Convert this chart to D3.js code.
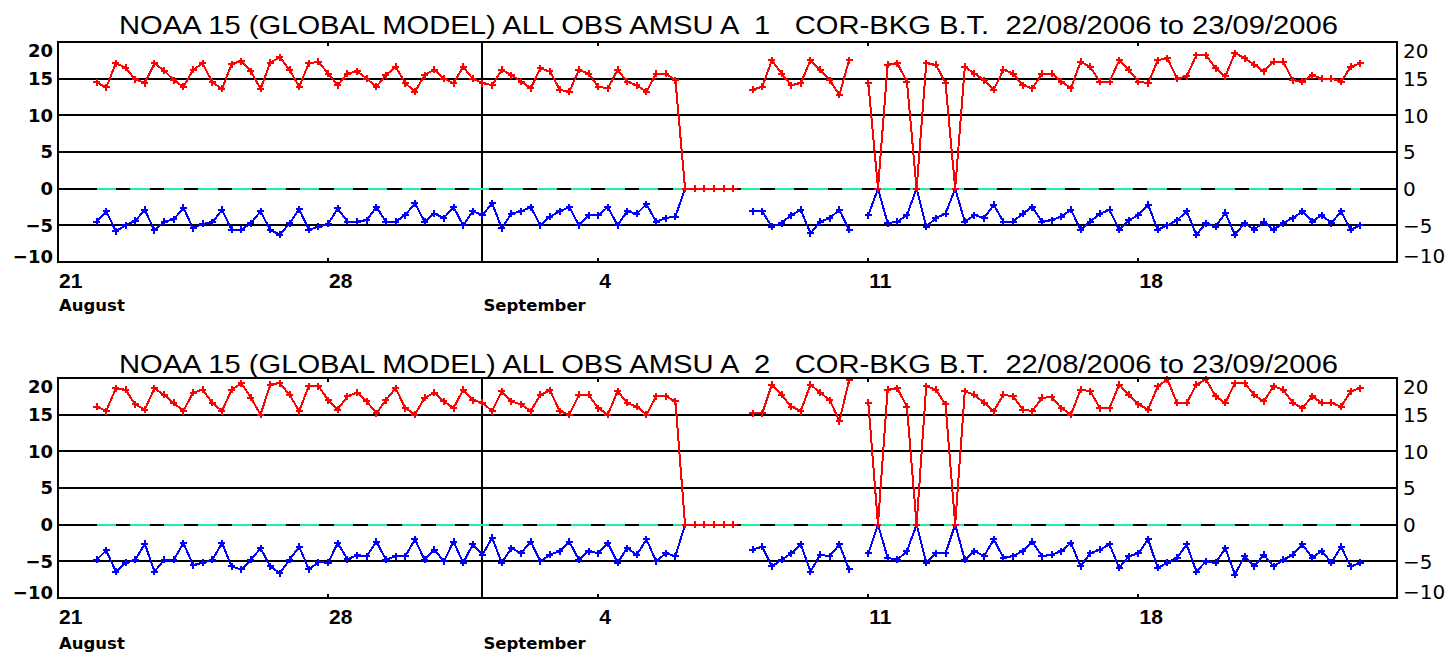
<!DOCTYPE html>
<html><head><meta charset="utf-8">
<script src="https://cdn.jsdelivr.net/npm/d3@7"></script>
<style>
html,body{margin:0;padding:0;background:#fff;}
svg{display:block;}
text{font-family:"Liberation Sans",Arial,sans-serif;fill:#000;}
</style></head><body>
<svg id="c" width="1447" height="652"></svg>
<script>
// ---------------- data ----------------
const startTime = "2006-08-22T00:00:00Z";   // first analysis time, 6-hourly cycles
const stepHours = 6;
const titles = [
  "NOAA 15 (GLOBAL MODEL) ALL OBS AMSU A  1   COR-BKG B.T.  22/08/2006 to 23/09/2006",
  "NOAA 15 (GLOBAL MODEL) ALL OBS AMSU A  2   COR-BKG B.T.  22/08/2006 to 23/09/2006"
];
const N = null;
// channel 1, red series
const red1 = [
 14.5,13.8,17.1,16.5,14.9,14.4,17.1,16.1,14.8,13.9,16.2,17.1,14.5,13.6,17.0,17.4,16.0,13.6,17.2,17.9,16.2,13.9,17.1,17.3,15.7,14.1,15.7,
 16.0,15.0,13.9,15.5,16.6,14.4,13.2,15.5,16.2,15.0,14.4,16.6,15.0,14.4,14.1,16.2,15.5,14.6,13.7,16.4,16.0,13.5,13.2,16.2,15.7,13.9,13.7,16.2,14.6,14.1,13.2,15.7,15.7,14.8,
 0,0,0,0,0,0, N,
 13.5,13.9,17.5,15.7,14.1,14.4,17.5,16.2,14.8,12.8,17.5, N,
 14.4,0,16.9,17.1,14.6,0,17.1,16.9,14.4,0,16.6,15.7,14.8,13.5,16.2,15.7,14.1,13.7,15.7,
 15.7,14.6,13.7,17.3,16.6,14.6,14.6,17.5,16.2,14.6,14.4,17.5,17.8,15.0,15.3,18.2,18.2,16.4,15.3,18.5,17.8,16.9,16.0,17.3,17.3,14.8,14.6,15.5,15.0,15.0,14.6,16.6,17.1
];
// channel 1, blue series
const blue1 = [
 -4.5,-3.1,-5.8,-5.0,-4.4,-2.9,-5.7,-4.5,-4.2,-2.6,-5.4,-4.8,-4.6,-2.9,-5.6,-5.6,-4.7,-3.1,-5.6,-6.3,-4.7,-2.8,-5.6,-5.2,-4.8,-2.7,-4.5,
 -4.5,-4.3,-2.5,-4.5,-4.5,-3.6,-2.0,-4.5,-3.4,-4.0,-2.5,-5.0,-3.1,-3.6,-2.0,-5.4,-3.4,-3.1,-2.5,-5.0,-3.8,-3.1,-2.5,-5.0,-3.6,-3.6,-2.5,-5.0,-3.1,-3.4,-2.1,-4.5,-4.0,-3.8,
 0,0,0,0,0,0, N,
 -3.1,-3.1,-5.2,-4.7,-3.6,-2.9,-6.1,-4.5,-4.0,-2.9,-5.6, N,
 -3.6,0,-4.7,-4.5,-3.6,0,-5.2,-4.0,-3.4,0,-4.5,-3.6,-4.0,-2.2,-4.5,-4.5,-3.4,-2.5,-4.5,
 -4.3,-3.8,-2.9,-5.6,-4.5,-3.4,-2.9,-5.6,-4.3,-3.6,-2.2,-5.6,-5.0,-4.3,-3.1,-6.3,-4.7,-5.2,-3.3,-6.3,-4.7,-5.6,-4.5,-5.6,-4.7,-4.0,-3.1,-4.5,-3.6,-4.7,-3.1,-5.6,-5.0
];
// channel 2, red series
const red2 = [
 16.1,15.5,18.6,18.4,16.4,15.7,18.6,17.7,16.6,15.5,18.0,18.4,16.6,15.5,18.4,19.3,17.3,15.0,19.1,19.3,17.7,15.5,18.9,18.9,17.0,15.7,17.5,18.0,
 16.8,15.2,17.0,18.6,15.9,15.0,17.3,18.0,16.8,15.9,18.4,17.0,16.6,15.5,18.2,16.8,16.4,15.5,17.7,18.3,15.5,15.0,17.7,17.7,15.9,15.0,18.2,16.6,16.1,15.0,17.5,17.5,16.8,
 0,0,0,0,0,0, N,
 15.2,15.2,19.1,17.7,16.1,15.5,19.1,18.0,17.0,14.1,19.7, N,
 16.6,0,18.4,18.6,16.1,0,18.9,18.4,16.4,0,18.2,17.7,16.6,15.5,17.7,17.5,15.7,15.5,17.3,
 17.4,15.9,15.0,18.4,18.2,15.9,15.9,19.1,17.7,16.4,15.7,18.9,19.8,16.6,16.6,19.1,19.8,17.5,16.6,19.3,19.3,17.7,16.8,18.9,18.4,16.6,15.9,17.5,16.6,16.6,16.1,18.2,18.6
];
// channel 2, blue series
const blue2 = [
 -4.8,-3.5,-6.4,-5.2,-4.8,-2.6,-6.4,-4.8,-4.8,-2.5,-5.5,-5.2,-4.8,-2.5,-5.7,-6.1,-4.8,-3.2,-5.7,-6.6,-4.8,-3.0,-6.1,-5.1,-5.2,-2.5,-4.7,-4.2,
 -4.3,-2.3,-4.8,-4.3,-4.3,-2.0,-4.8,-3.4,-5.0,-2.3,-5.2,-2.7,-4.1,-1.8,-5.2,-3.2,-3.9,-2.3,-5.0,-4.1,-3.6,-2.3,-4.8,-3.6,-3.9,-2.5,-5.2,-3.2,-4.1,-2.0,-5.0,-3.9,-4.3,
 0,0,0,0,0,0, N,
 -3.4,-3.0,-5.7,-4.8,-3.9,-2.7,-6.4,-4.1,-4.3,-2.7,-6.1, N,
 -3.9,0,-4.5,-4.8,-3.6,0,-5.2,-3.9,-3.9,0,-4.8,-3.6,-4.3,-2.0,-4.5,-4.3,-3.6,-2.3,-4.3,
 -4.1,-3.6,-2.5,-5.7,-3.9,-3.4,-2.7,-5.9,-4.3,-3.9,-2.0,-5.9,-5.2,-4.5,-2.7,-6.4,-5.0,-5.2,-3.2,-6.8,-4.3,-5.7,-4.1,-5.7,-4.8,-4.1,-2.7,-4.5,-3.6,-5.2,-3.0,-5.7,-5.2
];
const yTicks = [-10,-5,0,5,10,15,20];
const gridValues = [15,10,5,0,-5];
const xTickDates = ["2006-08-21","2006-08-28","2006-09-04","2006-09-11","2006-09-18"];
const xTickLabels = ["21","28","4","11","18"];
const monthDates = ["2006-08-21","2006-09-01"];
const monthNames = ["August","September"];
const monthBoundary = "2006-09-01";

// ---------------- layout ----------------
const svg = d3.select("#c");
const L = 58, R = 1397;
const panels = [
  {top:42, bottom:262, titleY:34, dayY:288, monY:311, reds:red1, blues:blue1, title:titles[0]},
  {top:378, bottom:598, titleY:373, dayY:624, monY:649, reds:red2, blues:blue2, title:titles[1]}
];
const t0 = new Date(startTime);
const times = red1.map((_,i)=> new Date(t0.getTime() + i*stepHours*3600e3));
const xStart = new Date("2006-08-21T00:00:00Z");
const xEnd = new Date(xStart.getTime() + 34.7*864e5);
const x = d3.scaleUtc().domain([xStart, xEnd]).range([L, R]);
const fmt = d3.format("d");

panels.forEach(p => {
  const y = d3.scaleLinear().domain([-10,20]).range([p.bottom, p.top]);
  const g = svg.append("g").attr("shape-rendering","crispEdges");

  // title
  svg.append("text").attr("x", 119).attr("y", p.titleY)
    .attr("textLength", 1219).attr("lengthAdjust","spacingAndGlyphs")
    .style("white-space","pre").attr("font-size", 25).text(p.title);

  // gridlines
  g.selectAll(".grid").data(gridValues).enter().append("line")
    .attr("x1", L).attr("x2", R).attr("y1", d=>y(d)).attr("y2", d=>y(d))
    .attr("stroke","#000").attr("stroke-width",2);

  // month boundary
  const mb = x(new Date(monthBoundary+"T00:00:00Z"));
  g.append("line").attr("x1", mb).attr("x2", mb)
    .attr("y1", p.top).attr("y2", p.bottom).attr("stroke","#000").attr("stroke-width",2);

  // zero reference (dashed green) across the data period
  g.append("line").attr("x1", x(times[0])).attr("x2", x(times[times.length-1]))
    .attr("y1", y(0)).attr("y2", y(0)).attr("stroke","#1ff0a0").attr("stroke-width",2)
    .attr("stroke-dasharray","19.5,14.4");

  const line = d3.line().defined(d=>d.v!==null).x(d=>x(d.t)).y(d=>y(d.v));
  const drawSeries = (vals, color) => {
    const data = vals.map((v,i)=>({t:times[i], v}));
    g.append("path").datum(data).attr("d", line).attr("fill","none")
      .attr("stroke", color).attr("stroke-width",2).attr("stroke-linejoin","miter");
    g.selectAll(null).data(data.filter(d=>d.v!==null)).enter().append("path")
      .attr("transform", d=>`translate(${x(d.t)},${y(d.v)})`)
      .attr("d","M-3.5,0H3.5M0,-3.5V3.5").attr("stroke", color).attr("stroke-width",2).attr("fill","none");
  };
  drawSeries(p.blues, "#0000ff");
  drawSeries(p.reds, "#ff0000");

  // frame
  g.append("rect").attr("x", L).attr("y", p.top).attr("width", R-L).attr("height", p.bottom-p.top)
    .attr("fill","none").attr("stroke","#000").attr("stroke-width",2);

  // x ticks
  const xt = xTickDates.map(d=>new Date(d+"T00:00:00Z"));
  g.selectAll(null).data(xt).enter().append("line")
    .attr("x1", d=>x(d)).attr("x2", d=>x(d)).attr("y1", p.top).attr("y2", p.top+4)
    .attr("stroke","#000").attr("stroke-width",2);
  g.selectAll(null).data(xt).enter().append("line")
    .attr("x1", d=>x(d)).attr("x2", d=>x(d)).attr("y1", p.bottom).attr("y2", p.bottom-4)
    .attr("stroke","#000").attr("stroke-width",2);
  svg.selectAll(null).data(xt).enter().append("text")
    .attr("x", d=>x(d)+1).attr("y", p.dayY).attr("font-size",21).attr("font-weight","bold")
    .text((d,i)=>xTickLabels[i]);
  svg.selectAll(null).data(monthDates).enter().append("text")
    .attr("x", d=>x(new Date(d+"T00:00:00Z"))+1).attr("y", p.monY)
    .style("font-family","'DejaVu Sans',sans-serif").attr("font-size",16.5).attr("font-weight","bold")
    .text((d,i)=>monthNames[i]);

  // y labels
  svg.selectAll(null).data(yTicks).enter().append("text")
    .attr("x", 53).attr("y", d=>y(d)+(d===20 ? 9 : (d===-10 ? -5 : 0))).attr("dy","0.36em").attr("text-anchor","end")
    .style("font-family","'DejaVu Sans',sans-serif").attr("font-size",18).attr("font-weight","bold").text(d=>fmt(d));
  svg.selectAll(null).data(yTicks).enter().append("text")
    .attr("x", 1403).attr("y", d=>y(d)+(d===20?9:(d===-10?-6:0))).attr("dy","0.36em")
    .style("font-family","'DejaVu Sans',sans-serif").attr("font-size",20).text(d=>fmt(d));
});
</script>
</body></html>
